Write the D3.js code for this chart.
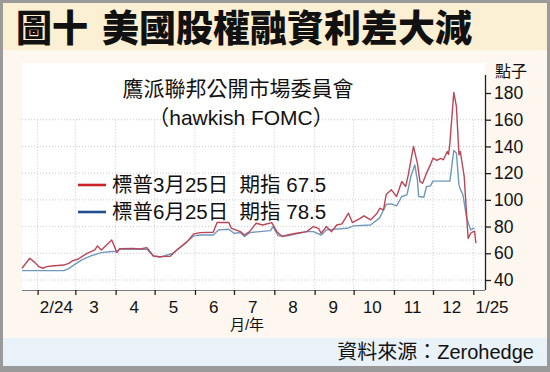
<!DOCTYPE html>
<html><head><meta charset="utf-8">
<script src="https://cdn.jsdelivr.net/npm/d3@7"></script>
<style>
html,body{margin:0;padding:0;background:#fff;}
svg{display:block;}
</style></head>
<body>
<svg id="c" width="550" height="372"></svg>
<script>
// ---------- DATA ----------
const titleA = "圖十";
const titleB = "美國股權融資利差大減";
const subtitle1 = "鷹派聯邦公開市場委員會";
const subtitle2 = "（hawkish FOMC）";
const legendNames = ["標普3月25日  期指 67.5", "標普6月25日  期指 78.5"];
const yUnit = "點子";
const xUnit = "月/年";
const source = "資料來源：Zerohedge";
const yTicks = [40, 60, 80, 100, 120, 140, 160, 180];
const yGrid = [40, 60, 80, 100, 120, 140, 160];
const monthLabels = ["2/24","3","4","5","6","7","8","9","10","11","12","1/25"];
const monthLabelDates = ["2024-02-15","2024-03-15","2024-04-15","2024-05-15","2024-06-15","2024-07-15","2024-08-15","2024-09-15","2024-10-15","2024-11-15","2024-12-15","2025-01-15"];
const monthTickDates = ["2024-02-01","2024-03-01","2024-04-01","2024-05-01","2024-06-01","2024-07-01","2024-08-01","2024-09-01","2024-10-01","2024-11-01","2024-12-01","2025-01-01"];

const redDates = ["2024-01-20","2024-01-26","2024-01-30","2024-02-02","2024-02-05","2024-02-08","2024-02-12","2024-02-21","2024-02-25","2024-02-28","2024-03-03","2024-03-06","2024-03-10","2024-03-13","2024-03-16","2024-03-18","2024-03-21","2024-03-25","2024-03-29","2024-04-02","2024-04-04","2024-04-14","2024-04-20","2024-04-25","2024-04-30","2024-05-05","2024-05-13","2024-05-18","2024-05-26","2024-05-31","2024-06-05","2024-06-15","2024-06-18","2024-06-27","2024-06-29","2024-07-06","2024-07-09","2024-07-13","2024-07-18","2024-07-23","2024-07-30","2024-08-03","2024-08-07","2024-08-11","2024-08-18","2024-08-26","2024-08-31","2024-09-04","2024-09-06","2024-09-10","2024-09-14","2024-09-18","2024-09-22","2024-09-27","2024-09-30","2024-10-06","2024-10-09","2024-10-14","2024-10-19","2024-10-21","2024-10-24","2024-10-26","2024-10-30","2024-11-01","2024-11-03","2024-11-07","2024-11-10","2024-11-12","2024-11-16","2024-11-19","2024-11-21","2024-11-23","2024-11-26","2024-11-29","2024-12-01","2024-12-04","2024-12-07","2024-12-09","2024-12-12","2024-12-13","2024-12-14","2024-12-17","2024-12-19","2024-12-21","2024-12-22","2024-12-25","2024-12-28","2024-12-30","2025-01-01","2025-01-02","2025-01-03"];
const redValues = [48.8,56.3,53,50,48.8,50,50.5,51.2,52.5,54.5,55.5,57.5,60,61.2,62.5,65.5,62.5,66.2,70,60.5,63.5,63.7,63.2,64.2,58,57.5,57.8,62.5,68.7,74.5,75.5,75.8,83,83,78.7,76.2,73.7,76.2,82.5,81.2,83,76.2,72.5,73.7,75,76.2,80,78.7,75,80,76.2,81.2,82,90,83,86.2,88,85,90,93.7,92.5,104,107.5,105,102.5,113.7,110,118.7,140,127.5,113.7,112.5,120,126.2,131.2,129.5,131,130,136.2,134,142.5,180.5,170,133.7,136.2,117.5,71.2,75,76.2,76.5,67.5];

const blueDates = ["2024-01-20","2024-02-21","2024-02-25","2024-02-27","2024-03-06","2024-03-13","2024-03-21","2024-03-29","2024-04-02","2024-04-04","2024-04-25","2024-04-30","2024-05-05","2024-05-15","2024-05-23","2024-05-31","2024-06-05","2024-06-15","2024-06-19","2024-06-27","2024-07-01","2024-07-06","2024-07-09","2024-07-13","2024-07-29","2024-07-31","2024-08-04","2024-08-11","2024-08-26","2024-08-31","2024-09-06","2024-09-10","2024-09-26","2024-10-01","2024-10-14","2024-10-21","2024-10-26","2024-10-30","2024-11-03","2024-11-07","2024-11-11","2024-11-14","2024-11-17","2024-11-19","2024-11-20","2024-11-24","2024-11-26","2024-11-29","2024-12-01","2024-12-14","2024-12-17","2024-12-19","2024-12-21","2024-12-22","2024-12-24","2024-12-27","2024-12-30","2025-01-01","2025-01-02"];
const blueValues = [47,47,48.5,50,55,58,60.5,61.3,61.3,63,63,58,57,60,66.2,73,73.7,73.7,77.5,78,75,75.5,72.5,75.5,77,80,73,73,76.2,76.2,73.7,77.5,78.7,80.5,81.2,86.5,96.5,97,95.5,102.5,103.7,117.5,126.2,115,102.5,102,110,110.5,114,114,137,135,111.2,108,104,86,77.5,78.7,78.5];

// ---------- DRAW ----------
const parse = d3.timeParse("%Y-%m-%d");
const svg = d3.select("#c");
const FONT = "'Liberation Sans', Arial, 'Noto Sans CJK TC', sans-serif";

// backgrounds
svg.append("rect").attr("x",0).attr("y",0).attr("width",550).attr("height",372).attr("fill","#9a9a9a");
svg.append("rect").attr("x",3).attr("y",3).attr("width",544).attr("height",363).attr("fill","#fdf7ef");
svg.append("rect").attr("x",3).attr("y",3).attr("width",544).attr("height",47).attr("fill","#fbf0d3");
svg.append("rect").attr("x",3).attr("y",338).attr("width",544).attr("height",28).attr("fill","#e9f2f9");

const x = d3.scaleTime().domain([parse("2024-01-20"), parse("2025-01-10")]).range([22, 485]);
const y = d3.scaleLinear().domain([40, 180]).range([280, 93]);

// plot area
svg.append("rect").attr("x",22).attr("y",63).attr("width",463).attr("height",227).attr("fill","#ffffff");

// grid
const g = svg.append("g");
g.selectAll("line.h").data(yGrid).enter().append("line")
  .attr("x1",22).attr("x2",485).attr("y1",d=>y(d)).attr("y2",d=>y(d))
  .attr("stroke","#c8c8c8").attr("stroke-width",1).attr("stroke-dasharray","1,2");
g.selectAll("line.v").data(monthTickDates).enter().append("line")
  .attr("x1",d=>x(parse(d))).attr("x2",d=>x(parse(d)))
  .attr("y1",y(160)).attr("y2",290)
  .attr("stroke","#c8c8c8").attr("stroke-width",1).attr("stroke-dasharray","1,2");

// lines
const line = d3.line().x(d=>x(d[0])).y(d=>y(d[1])).curve(d3.curveLinear);
const blueData = blueDates.map((d,i)=>[parse(d), blueValues[i]]);
const redData = redDates.map((d,i)=>[parse(d), redValues[i]]);
svg.append("path").datum(blueData).attr("d",line).attr("fill","none")
  .attr("stroke","#6f98bc").attr("stroke-width",1.4).attr("stroke-linejoin","round");
svg.append("path").datum(redData).attr("d",line).attr("fill","none")
  .attr("stroke","#bb4657").attr("stroke-width",1.4).attr("stroke-linejoin","round");

// x axis
const xAxisG = svg.append("g").attr("transform","translate(0,290)")
  .call(d3.axisBottom(x).tickValues(monthTickDates.map(parse)).tickSize(5).tickFormat(""));
xAxisG.select(".domain").attr("stroke","#7a7a7a").attr("stroke-width",1.2).attr("d","M22,0.5H485");
xAxisG.selectAll(".tick line").attr("stroke","#222").attr("stroke-width",1.3);
const xLab = svg.append("g").attr("transform","translate(0,290)")
  .call(d3.axisBottom(x).tickValues(monthLabelDates.map(parse)).tickSize(0)
    .tickFormat((d,i)=>monthLabels[i]));
xLab.select(".domain").remove();
xLab.selectAll("text").attr("font-family",FONT).attr("font-size",17).attr("fill","#111").attr("dy","1.2em").attr("y",3);

svg.append("text").attr("x",247).attr("y",330).attr("text-anchor","middle")
  .attr("font-family",FONT).attr("font-size",15).attr("fill","#111").text(xUnit);

// y axis
const yAxisG = svg.append("g").attr("transform","translate(485,0)")
  .call(d3.axisRight(y).tickValues(yTicks).tickSize(6).tickPadding(3));
yAxisG.select(".domain").attr("stroke","#222").attr("stroke-width",1.3).attr("d","M0.5,75V290");
yAxisG.selectAll(".tick line").attr("stroke","#222").attr("stroke-width",1.3);
yAxisG.selectAll("text").attr("font-family",FONT).attr("font-size",17.5).attr("fill","#111");

svg.append("text").attr("x",495).attr("y",77).attr("font-family","'Noto Sans CJK TC', sans-serif")
  .attr("font-size",16).attr("fill","#111").text(yUnit);

// title
svg.append("text").attr("x",16).attr("y",42).attr("font-family","'Noto Sans CJK TC', sans-serif")
  .attr("font-weight",900).attr("font-size",37).attr("fill","#111")
  .attr("textLength",72).attr("lengthAdjust","spacingAndGlyphs").text(titleA);
svg.append("text").attr("x",102).attr("y",42).attr("font-family","'Noto Sans CJK TC', sans-serif")
  .attr("font-weight",900).attr("font-size",37).attr("fill","#111")
  .attr("textLength",370).attr("lengthAdjust","spacingAndGlyphs").text(titleB);

// subtitle
svg.append("text").attr("x",238).attr("y",96).attr("text-anchor","middle")
  .attr("font-family",FONT).attr("font-size",21).attr("fill","#111").text(subtitle1);
svg.append("text").attr("x",241).attr("y",125).attr("text-anchor","middle")
  .attr("font-family",FONT).attr("font-size",21).attr("fill","#111").text(subtitle2);

// legend
const legColors = ["#cc2229","#1f4f8f"];
const legY = [185, 212];
legendNames.forEach((n,i)=>{
  svg.append("line").attr("x1",78).attr("x2",106).attr("y1",legY[i]).attr("y2",legY[i])
    .attr("stroke",legColors[i]).attr("stroke-width",2.6);
  svg.append("text").attr("x",112).attr("y",legY[i]+7).attr("xml:space","preserve")
    .style("white-space","pre")
    .attr("font-family",FONT).attr("font-size",20.5).attr("fill","#111").text(n);
});

// source
svg.append("text").attr("x",534).attr("y",359).attr("text-anchor","end")
  .attr("font-family",FONT).attr("font-size",20).attr("fill","#111").text(source);
</script>
</body></html>
